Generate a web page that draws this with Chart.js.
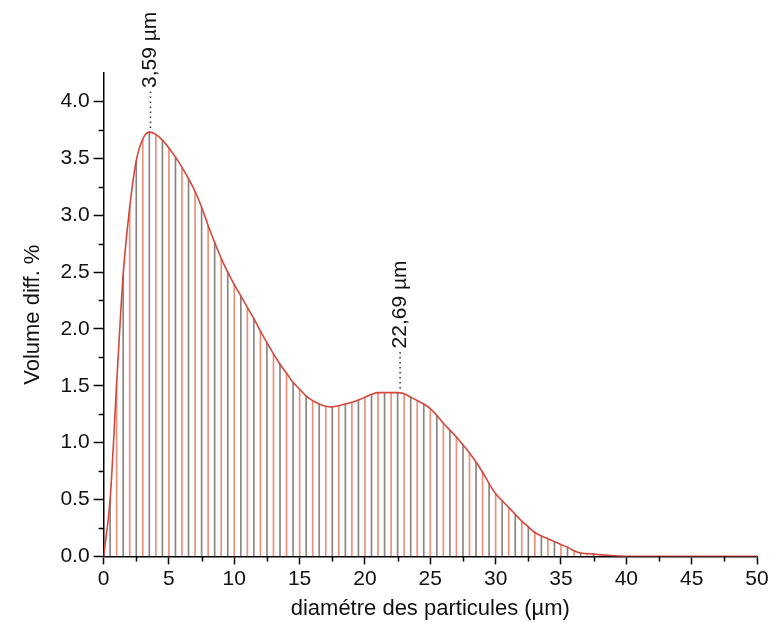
<!DOCTYPE html>
<html lang="fr">
  <head>
    <meta charset="UTF-8" />
    <title>Distribution granulométrique</title>
    <style>
      html, body { margin: 0; padding: 0; background: #fff; }
      #wrap { width: 773px; height: 635px; }
    </style>
  </head>
  <body>
    <div id="wrap"><canvas id="myChart"></canvas></div>

    <script src="https://cdn.jsdelivr.net/npm/chart.js@4.4.1/dist/chart.umd.min.js"></script>
    <script>
      // particle diameter (µm) and differential volume (%)
      const diameters = [
        0, 0.5, 1, 1.5, 2, 2.5, 3, 3.5, 4, 4.5, 5, 5.5, 6, 6.5, 7, 7.5, 8, 8.5, 9, 9.5,
        10, 10.5, 11, 11.5, 12, 12.5, 13, 13.5, 14, 14.5, 15, 15.5, 16, 16.5, 17, 17.5,
        18, 18.5, 19, 19.5, 20, 20.5, 21, 21.5, 22, 22.5, 23, 23.5, 24, 24.5, 25, 25.5,
        26, 26.5, 27, 27.5, 28, 28.5, 29, 29.5, 30, 30.5, 31, 31.5, 32, 32.5, 33, 33.5,
        34, 34.5, 35, 35.5, 36, 36.5, 37, 37.5, 38, 38.5, 39, 39.5, 40, 45, 50,
      ]
      const volumes = [
        0, 0.5, 1.52, 2.48, 3.07, 3.48, 3.67, 3.73, 3.71, 3.66, 3.59, 3.51, 3.42, 3.32, 3.21, 3.07, 2.91, 2.76, 2.62, 2.5,
        2.39, 2.29, 2.19, 2.09, 1.98, 1.88, 1.78, 1.69, 1.61, 1.53, 1.47, 1.41, 1.37, 1.34, 1.32, 1.315,
        1.325, 1.34, 1.355, 1.375, 1.4, 1.425, 1.44, 1.44, 1.44, 1.44, 1.43, 1.4, 1.37, 1.34, 1.3, 1.24,
        1.17, 1.11, 1.05, 0.98, 0.91, 0.83, 0.74, 0.64, 0.55, 0.49, 0.43, 0.37, 0.31, 0.26, 0.21, 0.18,
        0.155, 0.13, 0.105, 0.08, 0.05, 0.03, 0.025, 0.02, 0.015, 0.01, 0.006, 0.002, 0, 0, 0,
      ]

      // peak markers
      const peakX = [3.59, 22.69]
      const peakY = [3.74, 1.45]
      const peakLabels = ['3,59 µm', '22,69 µm']

      const points = diameters.map((d, i) => ({ x: d, y: volumes[i] }))

      const FONT = 'Arial, "Liberation Sans", sans-serif'

      // short minor ticks (Chart.js only draws one tick length)
      const minorTicks = {
        id: 'minorTicks',
        afterDraw(chart) {
          const ctx = chart.ctx
          const xs = chart.scales.x
          const ys = chart.scales.y
          ctx.save()
          ctx.strokeStyle = '#000'
          ctx.lineWidth = 1.5
          ctx.beginPath()
          for (let v = 2.5; v < 50; v += 5) {
            const px = Math.round(xs.getPixelForValue(v)) + 0.5
            ctx.moveTo(px, xs.top)
            ctx.lineTo(px, xs.top + 5)
          }
          for (let v = 0.25; v < 4.25; v += 0.5) {
            const py = Math.round(ys.getPixelForValue(v)) + 0.5
            ctx.moveTo(ys.right, py)
            ctx.lineTo(ys.right - 5, py)
          }
          ctx.stroke()
          ctx.restore()
        },
      }

      // dotted leader + rotated label above each peak
      const peakNotes = {
        id: 'peakNotes',
        afterDatasetsDraw(chart) {
          const ctx = chart.ctx
          const xs = chart.scales.x
          const ys = chart.scales.y
          ctx.save()
          peakX.forEach((x, i) => {
            const px = xs.getPixelForValue(x)
            const py = ys.getPixelForValue(peakY[i])
            ctx.strokeStyle = '#333'
            ctx.lineWidth = 1.5
            ctx.setLineDash([1.5, 3.5])
            ctx.beginPath()
            ctx.moveTo(px, py - 3)
            ctx.lineTo(px, py - 40)
            ctx.stroke()
            ctx.setLineDash([])
            ctx.translate(px, py - 43)
            ctx.rotate(-Math.PI / 2)
            ctx.fillStyle = '#111'
            ctx.font = '21px ' + FONT
            ctx.textAlign = 'left'
            ctx.textBaseline = 'middle'
            ctx.fillText(peakLabels[i], 0, 0)
            ctx.setTransform(1, 0, 0, 1, 0, 0)
          })
          ctx.restore()
        },
      }

      new Chart('myChart', {
        type: 'bar',
        data: {
          datasets: [
            {
              type: 'line',
              data: points,
              borderColor: '#d4473b',
              borderWidth: 1.6,
              pointRadius: 0,
              cubicInterpolationMode: 'monotone',
              fill: false,
              order: 0,
            },
            {
              type: 'bar',
              data: points,
              barThickness: 1,
              backgroundColor: (c) => (c.dataIndex % 2 ? '#8a8481' : '#e8907a'),
              borderWidth: 0,
              order: 1,
            },
          ],
        },
        options: {
          responsive: true,
          maintainAspectRatio: false,
          animation: false,
          layout: { padding: { top: 73, right: 16, left: 16, bottom: 9 } },
          plugins: {
            legend: { display: false },
            tooltip: { enabled: false },
          },
          scales: {
            x: {
              type: 'linear',
              min: 0,
              max: 50,
              offset: false,
              ticks: {
                stepSize: 5,
                color: '#111',
                font: { family: FONT, size: 21 },
                padding: 2,
                maxRotation: 0,
              },
              grid: {
                offset: false,
                drawOnChartArea: false,
                color: '#000',
                tickLength: 8,
                tickWidth: 1.5,
              },
              border: { color: '#000', width: 1.5 },
              title: {
                display: true,
                text: 'diamétre des particules (µm)',
                color: '#111',
                font: { family: FONT, size: 22 },
                padding: { top: 2 },
              },
            },
            y: {
              min: 0,
              max: 4.25,
              afterBuildTicks(scale) {
                scale.ticks = [0, 0.5, 1, 1.5, 2, 2.5, 3, 3.5, 4].map((v) => ({ value: v }))
              },
              ticks: {
                color: '#111',
                font: { family: FONT, size: 21 },
                padding: 4,
                callback: (v) => v.toFixed(1),
              },
              grid: {
                drawOnChartArea: false,
                color: '#000',
                tickLength: 10,
                tickWidth: 1.5,
              },
              border: { color: '#000', width: 1.5 },
              title: {
                display: true,
                text: 'Volume diff. %',
                color: '#111',
                font: { family: FONT, size: 22 },
                padding: { bottom: 10 },
              },
            },
          },
        },
        plugins: [minorTicks, peakNotes],
      })
    </script>
  </body>
</html>
